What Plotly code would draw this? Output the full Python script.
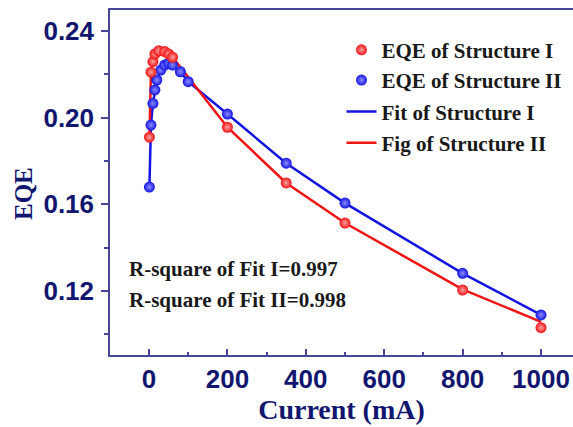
import plotly.graph_objects as go

# Measured EQE versus drive current
current_I = [1, 5, 10, 15, 25, 40, 50, 60, 200, 350, 500, 800, 1000]
eqe_I = [0.191, 0.221, 0.2259, 0.2294, 0.2309, 0.2305, 0.2294, 0.2279,
         0.1956, 0.1699, 0.1514, 0.1205, 0.1031]

current_II = [1, 5, 10, 15, 20, 30, 40, 50, 60, 80, 100, 200, 350, 500, 800, 1000]
eqe_II = [0.168, 0.1966, 0.2066, 0.2128, 0.2174, 0.222, 0.2243, 0.2251,
          0.2243, 0.2212, 0.2166, 0.2017, 0.179, 0.1606, 0.1282, 0.109]

# Fitted curves
fit_cur_I = [1, 5, 10, 15, 25, 40, 50, 60, 200, 350, 500, 800, 1000]
fit_I = [0.191, 0.221, 0.2259, 0.2294, 0.2309, 0.2305, 0.2294, 0.2279,
         0.1956, 0.1699, 0.1514, 0.1208, 0.1058]
fit_cur_II = [1, 5, 10, 15, 20, 30, 40, 50, 60, 80, 100, 200, 350, 500, 800, 1000]
fit_II = [0.168, 0.1966, 0.2066, 0.2128, 0.2174, 0.222, 0.2243, 0.2251,
          0.2243, 0.2212, 0.2166, 0.2017, 0.179, 0.1606, 0.1282, 0.109]

x_ticks = [0, 200, 400, 600, 800, 1000]
y_ticks = [0.12, 0.16, 0.20, 0.24]
y_tick_text = ["0.12", "0.16", "0.20", "0.24"]

RED = "rgb(240,20,20)"
BLUE = "rgb(20,20,225)"
NAVY = "rgb(18,22,110)"
AXIS = "rgb(70,70,150)"
SERIF = "Liberation Serif, Times New Roman, serif"
SANS = "Liberation Sans, Arial, sans-serif"

fig = go.Figure()

fig.add_trace(go.Scatter(
    x=fit_cur_II, y=fit_II, mode="lines", name="Fit of Structure I",
    line=dict(color=BLUE, width=2.5), legendrank=3, legendgroup="fit1"))
fig.add_trace(go.Scatter(
    x=fit_cur_I, y=fit_I, mode="lines", name="Fig of Structure II",
    line=dict(color=RED, width=2.5), legendrank=4, legendgroup="fit2"))
fig.add_trace(go.Scatter(
    x=current_II, y=eqe_II, mode="markers", name="EQE of Structure II",
    marker=dict(color=BLUE, size=11, line=dict(width=0),
                gradient=dict(type="radial", color="rgb(140,140,255)")),
    legendrank=2, legendgroup="data"))
fig.add_trace(go.Scatter(
    x=current_I, y=eqe_I, mode="markers", name="EQE of Structure I",
    marker=dict(color=RED, size=11, line=dict(width=0),
                gradient=dict(type="radial", color="rgb(255,160,160)")),
    legendrank=1, legendgroup="data"))

fig.update_layout(
    width=573, height=427,
    margin=dict(l=110, r=0, t=10, b=72),
    paper_bgcolor="white", plot_bgcolor="white",
    showlegend=True,
    legend=dict(x=0.50, y=0.943, xanchor="left", yanchor="top",
                bgcolor="rgba(0,0,0,0)", tracegroupgap=1,
                font=dict(family=SERIF, size=21, color="rgb(25,25,25)", weight="bold")),
    xaxis=dict(
        range=[-99.5, 1081.6], tickvals=x_ticks,
        ticks="inside", ticklen=6, tickwidth=1.5, tickcolor=AXIS,
        showline=True, linecolor=AXIS, linewidth=1.5, mirror=True,
        showgrid=False, zeroline=False,
        minor=dict(dtick=100, ticks="inside", ticklen=3, tickcolor=AXIS, tickwidth=1.5),
        tickfont=dict(family=SANS, size=26, color=NAVY, weight="bold"),
        title=dict(text="Current (mA)", standoff=6,
                   font=dict(family=SERIF, size=28, color=NAVY, weight="bold")),
    ),
    yaxis=dict(
        range=[0.0905, 0.2497], tickvals=y_ticks, ticktext=y_tick_text,
        ticks="outside", ticklen=7, tickwidth=1.5, tickcolor=AXIS,
        showline=True, linecolor=AXIS, linewidth=1.5, mirror=False,
        showgrid=False, zeroline=False,
        minor=dict(dtick=0.02, ticks="outside", ticklen=4, tickcolor=AXIS, tickwidth=1.5),
        tickfont=dict(family=SANS, size=26, color=NAVY, weight="bold"),
        ticklabelstandoff=2,
    ),
)

fig.add_annotation(
    text="EQE", textangle=-90, xref="paper", yref="paper",
    x=(23 - 110) / 463, y=1 - (194 - 10) / 345, showarrow=False,
    xanchor="center", yanchor="middle",
    font=dict(family=SERIF, size=25, color=NAVY, weight="bold"))

for txt, ypx in [("R-square of Fit I=0.997", 269), ("R-square of Fit II=0.998", 300)]:
    fig.add_annotation(
        text=txt, xref="paper", yref="paper",
        x=(127 - 110) / 463, y=1 - (ypx - 10) / 345, showarrow=False,
        xanchor="left", yanchor="middle",
        font=dict(family=SERIF, size=21, color="rgb(25,25,25)", weight="bold"))

fig.write_html("out.html")
